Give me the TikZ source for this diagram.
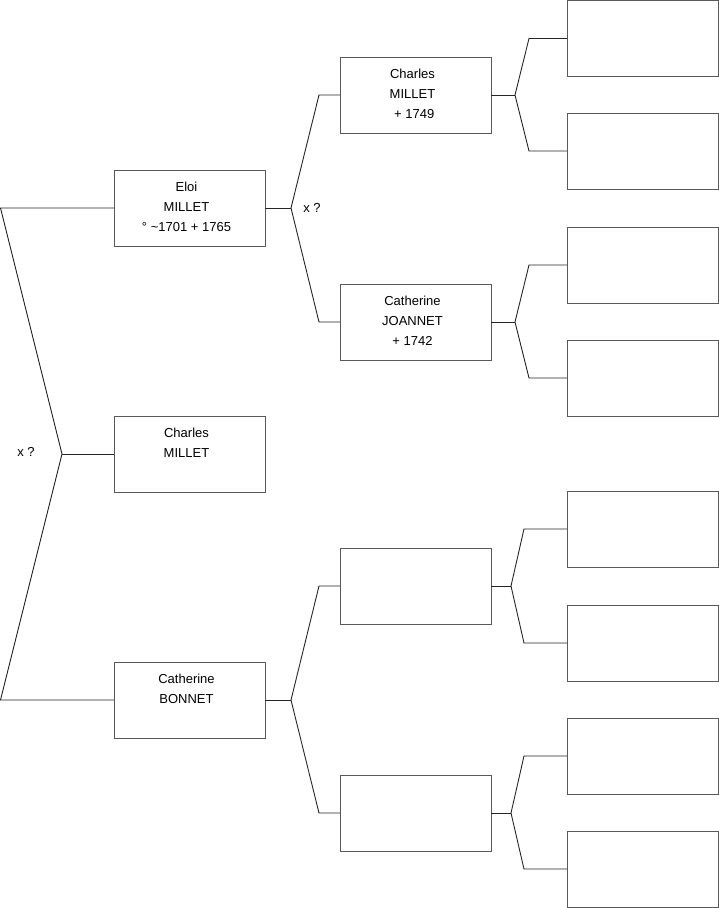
\documentclass[tikz,border=0pt]{standalone}
\usepackage{fontspec}
\setmainfont{Liberation Sans}
\begin{document}
\begin{tikzpicture}[x=1pt,y=-1pt,
  person/.style={draw=black!65, line width=1pt, fill=white, minimum width=151pt, minimum height=76pt, inner sep=0pt, outer sep=0pt},
  nm/.style={anchor=north, inner sep=0pt, align=center, font=\fontsize{13}{20}\selectfont, yshift=-11.5pt, xshift=-3pt},
  link/.style={draw=black!85, line width=0.9pt, line join=miter},
  lbl/.style={font=\fontsize{13}{15}\selectfont, inner sep=0pt}]
\useasboundingbox (0,0) rectangle (719,908);

% boxes
\node[person, label={[nm]north:Eloi\\MILLET\\° \textasciitilde1701 + 1765}] (e) at (189.5,208) {};
\node[person, label={[nm]north:Charles\\MILLET}] (c) at (189.5,454) {};
\node[person, label={[nm]north:Catherine\\BONNET}] (b) at (189.5,700) {};
\node[person, label={[nm]north:Charles\\MILLET\\\mbox{}\ + 1749}] (f) at (415.5,95) {};
\node[person, label={[nm]north:Catherine\\JOANNET\\+ 1742}] (m) at (415.5,322) {};
\node[person] (p1) at (415.5,586) {};
\node[person] (p2) at (415.5,813) {};
\node[person] (r1) at (642.5,38.5) {};
\node[person] (r2) at (642.5,151) {};
\node[person] (r3) at (642.5,265) {};
\node[person] (r4) at (642.5,378) {};
\node[person] (r5) at (642.5,529) {};
\node[person] (r6) at (642.5,643) {};
\node[person] (r7) at (642.5,756) {};
\node[person] (r8) at (642.5,869) {};

% left fork
\coordinate (L1) at (0.5,208);
\coordinate (L2) at (62,454);
\coordinate (L3) at (0.5,700);
\draw[link] (e.west) -- (L1) -- (L2) -- (L3) -- (b.west);
\draw[link] (L2) -- (c.west);
\node[lbl] (x1) at (26,452) {x ?};

% fork from Eloi
\coordinate (E0) at (291,208);
\coordinate (E1) at (319,95);
\coordinate (E2) at (319,322);
\draw[link] (e.east) -- (E0);
\draw[link] (f.west) -- (E1) -- (E0) -- (E2) -- (m.west);
\node[lbl] (x2) at (312,208) {x ?};

% fork from Bonnet
\coordinate (B0) at (291,700);
\coordinate (B1) at (319,586);
\coordinate (B2) at (319,813);
\draw[link] (b.east) -- (B0);
\draw[link] (p1.west) -- (B1) -- (B0) -- (B2) -- (p2.west);

% fork from Charles 1749
\coordinate (F0) at (515,95);
\coordinate (F1) at (529,38.5);
\coordinate (F2) at (529,151);
\draw[link] (f.east) -- (F0);
\draw[link] (r1.west) -- (F1) -- (F0) -- (F2) -- (r2.west);

% fork from Joannet
\coordinate (M0) at (515,322);
\coordinate (M1) at (529,265);
\coordinate (M2) at (529,378);
\draw[link] (m.east) -- (M0);
\draw[link] (r3.west) -- (M1) -- (M0) -- (M2) -- (r4.west);

% fork from p1
\coordinate (P0) at (511,586);
\coordinate (P1) at (524,529);
\coordinate (P2) at (524,643);
\draw[link] (p1.east) -- (P0);
\draw[link] (r5.west) -- (P1) -- (P0) -- (P2) -- (r6.west);

% fork from p2
\coordinate (Q0) at (511,813);
\coordinate (Q1) at (524,756);
\coordinate (Q2) at (524,869);
\draw[link] (p2.east) -- (Q0);
\draw[link] (r7.west) -- (Q1) -- (Q0) -- (Q2) -- (r8.west);
\end{tikzpicture}
\end{document}
